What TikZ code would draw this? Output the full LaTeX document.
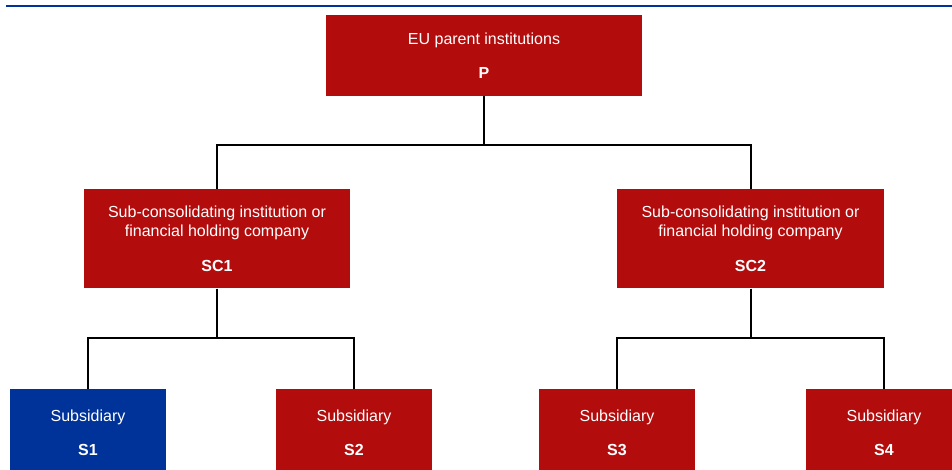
\documentclass[tikz,border=0pt]{standalone}
\usepackage{fontspec}
\setmainfont{Liberation Sans}
\usepackage{tikz}
\usetikzlibrary{positioning}
\definecolor{grpred}{RGB}{179,12,12}
\definecolor{grpblue}{RGB}{0,51,153}

\begin{document}
\begin{tikzpicture}[
    x=0.75pt, y=-0.75pt,
    box/.style={fill=grpred, text=white, align=center, inner sep=0pt, font=\fontsize{12}{14.4}\selectfont},
    parentbox/.style={box, minimum width=237pt, minimum height=60.75pt},
    subbox/.style={box, minimum width=200pt, minimum height=74.25pt},
    leafbox/.style={box, minimum width=117pt, minimum height=66pt},
    link/.style={draw=black, line width=1.5pt},
  ]
    \useasboundingbox (0,0) rectangle (952,469);
    % Header rule
    \draw[grpblue, line width=1.5pt] (6,5.5) -- (952,5.5);
    % Parent
    \node[parentbox] (p) at (484,55.5) {EU parent institutions\\[11pt]\textbf{P}};
    % Sub-consolidating level
    \node[subbox] (sc1) at (217,238.8) {Sub-consolidating institution or\\financial holding company\\[11.8pt]\textbf{SC1}};
    \node[subbox] (sc2) at (750.5,238.8) {Sub-consolidating institution or\\financial holding company\\[11.8pt]\textbf{SC2}};
    % Subsidiaries
    \node[leafbox, fill=grpblue] (s1) at (88,433) {Subsidiary\\[11pt]\textbf{S1}};
    \node[leafbox] (s2) at (354,433) {Subsidiary\\[11pt]\textbf{S2}};
    \node[leafbox] (s3) at (617,433) {Subsidiary\\[11pt]\textbf{S3}};
    \node[leafbox] (s4) at (884,433) {Subsidiary\\[11pt]\textbf{S4}};

    % Edges
    \draw[link] (p.south) -- ++(0,49) -| (sc1.north);
    \draw[link] (p.south) -- ++(0,49) -| (sc2.north);
    \draw[link] (sc1.south) -- ++(0,49) -| (s1.north);
    \draw[link] (sc1.south) -- ++(0,49) -| (s2.north);
    \draw[link] (sc2.south) -- ++(0,49) -| (s3.north);
    \draw[link] (sc2.south) -- ++(0,49) -| (s4.north);
  \end{tikzpicture}
\end{document}
